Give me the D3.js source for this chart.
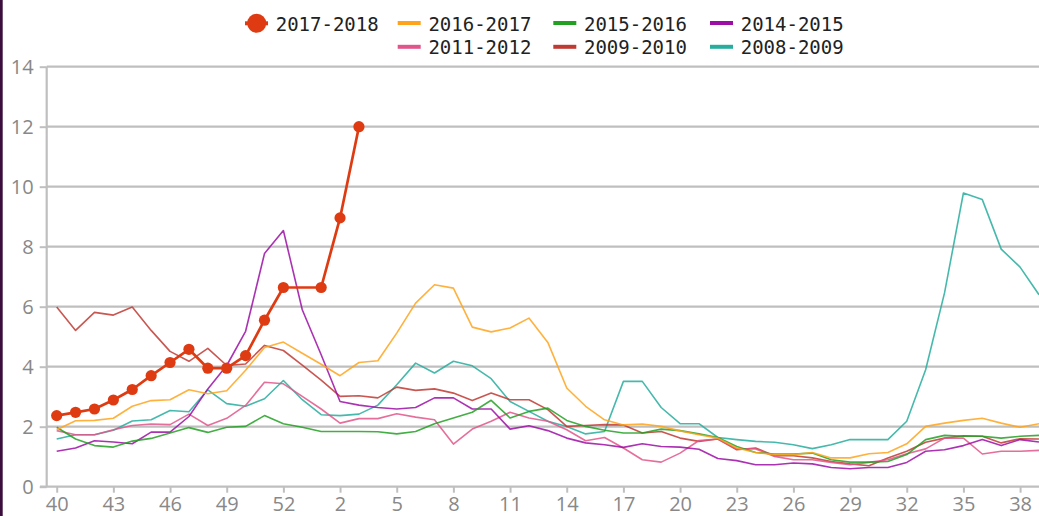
<!DOCTYPE html>
<html><head><meta charset="utf-8">
<script src="https://cdn.jsdelivr.net/npm/d3@7"></script>
<style>html,body{margin:0;padding:0;background:#fff;overflow:hidden}</style>
</head><body>
<svg id="chart" width="1039" height="516"></svg>
<script>
// ---- data ----
const weeks = [40,41,42,43,44,45,46,47,48,49,50,51,52,53,1,2,3,4,5,6,7,8,9,10,11,12,13,14,15,16,17,18,19,20,21,22,23,24,25,26,27,28,29,30,31,32,33,34,35,36,37,38,39];
const tickWeeks = [40,43,46,49,52,2,5,8,11,14,17,20,23,26,29,32,35,38];
const yTicks = [0,2,4,6,8,10,12,14];
const seriesNames = ["2017-2018","2016-2017","2015-2016","2014-2015","2011-2012","2009-2010","2008-2009"];
const seriesColors = ["#df3b12","#ffa31a","#22a022","#9c0ea6","#e2558a","#bf3a32","#26ad9e"];

const s2017_2018 = [2.37,2.48,2.59,2.89,3.24,3.70,4.14,4.58,3.95,3.95,4.37,5.55,6.64,null,6.64,8.96,12.0];
const s2016_2017 = [1.90,2.20,2.21,2.28,2.68,2.87,2.90,3.23,3.10,3.20,3.88,4.64,4.82,4.45,4.08,3.70,4.14,4.20,
  5.12,6.12,6.73,6.62,5.32,5.16,5.29,5.62,4.81,3.29,2.68,2.23,2.06,2.09,2.01,1.86,1.73,
  1.62,1.29,1.14,1.07,1.07,1.14,0.96,0.96,1.10,1.14,1.43,2.01,2.12,2.21,2.28,2.12,1.98,2.10];
const s2015_2016 = [1.98,1.59,1.37,1.32,1.52,1.61,1.79,1.97,1.81,1.98,2.01,2.37,2.10,1.98,1.84,1.84,1.84,1.83,
  1.76,1.84,2.10,2.29,2.48,2.88,2.29,2.51,2.62,2.21,2.01,1.88,1.79,1.79,1.92,1.87,1.76,
  1.64,1.34,1.14,1.09,1.09,1.12,0.90,0.82,0.82,0.84,1.07,1.57,1.71,1.68,1.68,1.62,1.68,1.71];
const s2014_2015 = [1.18,1.29,1.53,1.49,1.43,1.82,1.82,2.34,3.26,4.04,5.18,7.77,8.54,5.90,4.40,2.84,2.72,2.64,
  2.59,2.64,2.96,2.96,2.59,2.59,1.92,2.03,1.87,1.62,1.46,1.40,1.31,1.43,1.34,1.32,1.25,
  0.94,0.87,0.73,0.73,0.79,0.76,0.64,0.60,0.64,0.64,0.81,1.18,1.23,1.37,1.57,1.37,1.57,1.49];
const s2011_2012 = [1.87,1.73,1.73,1.90,2.04,2.09,2.07,2.42,2.04,2.28,2.71,3.48,3.43,3.01,2.59,2.12,2.27,2.27,
  2.43,2.32,2.23,1.42,1.92,2.18,2.48,2.29,2.18,1.90,1.53,1.64,1.29,0.90,0.82,1.12,1.54,
  1.59,1.26,1.26,1.01,0.90,0.90,0.81,0.73,0.81,0.90,1.10,1.26,1.62,1.62,1.09,1.18,1.18,1.21];
const s2009_2010 = [5.99,5.21,5.81,5.72,5.99,5.21,4.51,4.18,4.61,4.04,4.09,4.71,4.54,4.05,3.55,3.01,3.03,2.96,
  3.32,3.21,3.26,3.12,2.87,3.12,2.90,2.90,2.57,2.01,2.04,2.07,2.06,1.79,1.84,1.62,1.51,
  1.59,1.23,1.29,1.03,1.03,0.96,0.84,0.76,0.70,0.96,1.18,1.48,1.62,1.70,1.68,1.46,1.60,1.59];
const s2008_2009 = [1.59,1.73,1.73,1.88,2.19,2.23,2.54,2.50,3.23,2.77,2.68,2.93,3.54,2.90,2.40,2.37,2.42,2.72,
  3.40,4.12,3.79,4.18,4.03,3.60,2.84,2.51,2.18,2.01,1.76,1.84,3.51,3.51,2.64,2.10,2.10,
  1.64,1.57,1.51,1.48,1.40,1.27,1.40,1.57,1.57,1.57,2.18,3.90,6.46,9.79,9.57,7.92,7.32,6.40];
const seriesValues = [s2017_2018,s2016_2017,s2015_2016,s2014_2015,s2011_2012,s2009_2010,s2008_2009];

// ---- chart ----
const svg = d3.select("#chart");
svg.append("rect").attr("width",1039).attr("height",516).attr("fill","#fff");
svg.append("rect").attr("x",0).attr("y",0).attr("width",2.7).attr("height",516).attr("fill","#3a0d3c");

const x = d3.scalePoint().domain(weeks).range([56.7, 56.7 + 52*18.89]);
const y = d3.scaleLinear().domain([0,14]).range([486.7, 66.7]);
const axisColor = "#bfbfbf";
const axisFont = "'Open Sans', 'Noto Sans', sans-serif";

// gridlines
svg.append("g").selectAll("line").data(yTicks.filter(t=>t>0)).join("line")
  .attr("x1",46.7).attr("x2",1045).attr("y1",d=>y(d)).attr("y2",d=>y(d))
  .attr("stroke",axisColor).attr("stroke-width",2.2);

// y axis
const gy = svg.append("g").attr("transform","translate(46.7,0)")
  .call(d3.axisLeft(y).tickValues(yTicks).tickSize(7).tickPadding(6));
gy.select(".domain").remove();
gy.append("line").attr("x1",0).attr("x2",0).attr("y1",y(14)).attr("y2",y(0)).attr("stroke",axisColor).attr("stroke-width",2.2);
gy.selectAll(".tick line").attr("stroke",axisColor).attr("stroke-width",2);
gy.selectAll(".tick text").attr("fill","#888").style("font-family",axisFont).style("font-size","20px");

// x axis
const gx = svg.append("g").attr("transform",`translate(0,${y(0)})`)
  .call(d3.axisBottom(x).tickValues(tickWeeks).tickSize(6).tickPadding(4));
gx.select(".domain").remove();
gx.append("line").attr("x1",40).attr("x2",1045).attr("y1",0).attr("y2",0).attr("stroke",axisColor).attr("stroke-width",2.2);
gx.selectAll(".tick line").attr("stroke",axisColor).attr("stroke-width",2);
gx.selectAll(".tick text").attr("fill","#888").style("font-family",axisFont).style("font-size","20px");

// lines
const line = d3.line().x(d=>x(d.w)).y(d=>y(d.v));
const order = [6,5,4,3,2,1,0];
order.forEach(i=>{
  const pts = seriesValues[i].map((v,k)=>({w:weeks[k],v})).filter(d=>d.v!=null);
  svg.append("path").datum(pts).attr("d",line).attr("fill","none")
    .attr("stroke",seriesColors[i]).attr("stroke-width", i===0?2.7:1.6)
    .attr("stroke-opacity", i===0?1:0.85).attr("stroke-linejoin","round");
  if(i===0){
    svg.append("g").selectAll("circle").data(pts).join("circle")
      .attr("cx",d=>x(d.w)).attr("cy",d=>y(d.v)).attr("r",5.6).attr("fill",seriesColors[0]);
  }
});

// legend
const legendPos = [[245,23.3],[397.7,23],[553.3,23],[710,23],[397.7,46.8],[553.3,46.8],[710,46.8]];
const lg = svg.append("g");
seriesNames.forEach((name,i)=>{
  const [lx,ly] = legendPos[i];
  const g = lg.append("g").attr("transform",`translate(${lx},${ly})`);
  g.append("line").attr("x1",0).attr("x2",23).attr("y1",0).attr("y2",0)
    .attr("stroke",seriesColors[i]).attr("stroke-width",4);
  if(i===0) g.append("circle").attr("cx",11.7).attr("cy",0).attr("r",9.5).attr("fill",seriesColors[0]);
  g.append("text").attr("x",30.7).attr("y",7.5).text(name)
    .attr("fill","#222").style("font-family","'DejaVu Sans Mono', monospace").style("font-size","19px");
});
</script>
</body></html>
